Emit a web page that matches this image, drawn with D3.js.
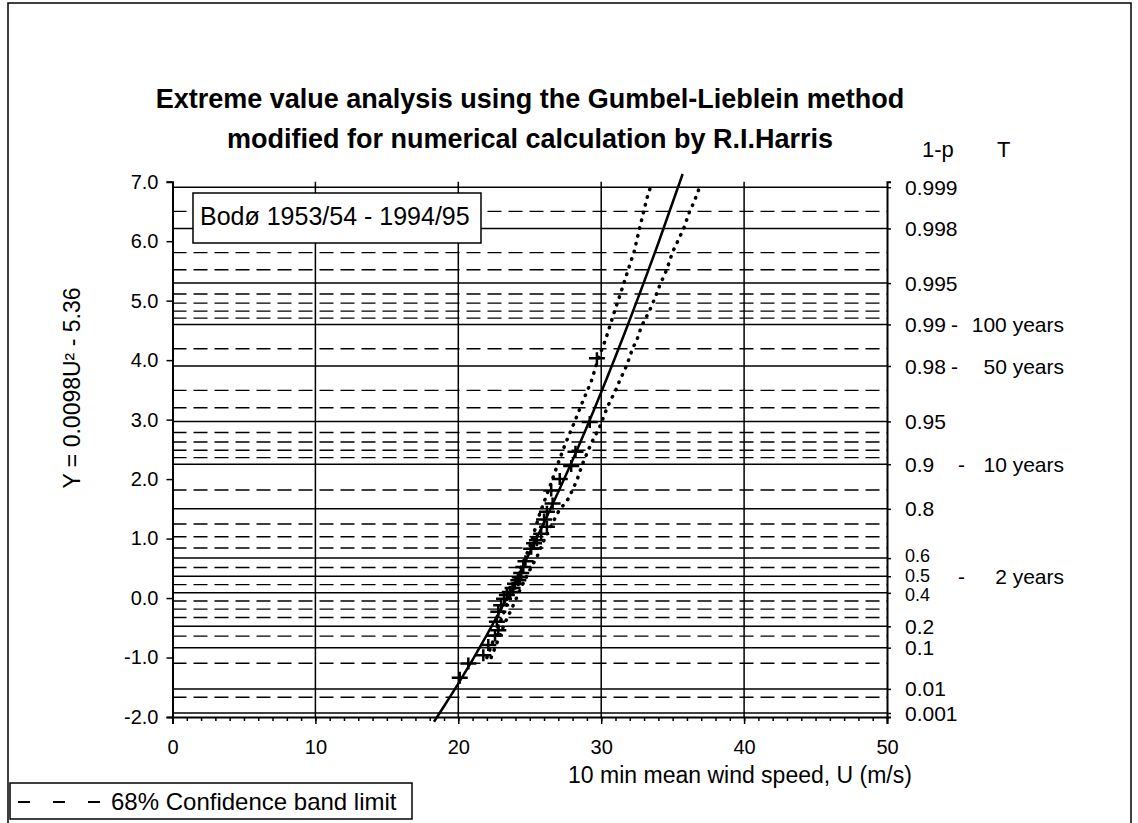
<!DOCTYPE html>
<html>
<head>
<meta charset="utf-8">
<script src="https://cdn.jsdelivr.net/npm/d3@7/dist/d3.min.js"></script>
<style>
  html, body { margin: 0; padding: 0; background: #fff; }
  svg { display: block; }
  text { font-family: "Liberation Sans", Arial, Helvetica, sans-serif; fill: #000; }
</style>
</head>
<body>
<svg id="chart" width="1138" height="823"></svg>
<script>
// ---------------- DATA ----------------
const titleLines = ["Extreme value analysis using the Gumbel-Lieblein method",
                    "modified for numerical calculation by R.I.Harris"];
const stationLabel = "Bodø 1953/54 - 1994/95";
const xLabel = "10 min mean wind speed, U (m/s)";
const yLabel = "Y = 0.0098U\u00B2 - 5.36";
const legendLabel = "68% Confidence band limit";

const xTicks = [0, 10, 20, 30, 40, 50];
const yTicks = [-2, -1, 0, 1, 2, 3, 4, 5, 6, 7];

// non-exceedance probabilities (1-p) for solid and dashed grid lines
const probSolid = [0.999, 0.998, 0.995, 0.99, 0.98, 0.95, 0.9, 0.8, 0.6, 0.5, 0.4, 0.2, 0.1, 0.01, 0.001];
const probDashed = [0.9985, 0.997, 0.996, 0.994, 0.993, 0.992, 0.991, 0.985, 0.97, 0.96,
                    0.94, 0.93, 0.92, 0.91, 0.85, 0.75, 0.7, 0.65, 0.55, 0.45, 0.35, 0.3, 0.25,
                    0.15, 0.05, 0.005];
// right-hand labels
const probLabels = ["0.999", "0.998", "0.995", "0.99", "0.98", "0.95", "0.9", "0.8", "0.6", "0.5", "0.4", "0.2", "0.1", "0.01", "0.001"];
const returnProbs = [0.99, 0.98, 0.9, 0.5];
const returnLabels = ["100 years", "50 years", "10 years", "2 years"];

// observed annual maxima (U m/s) and plotted reduced variate Y
const obsU = [20.1, 20.7, 21.75, 22.1, 22.57, 22.8, 22.7, 22.8, 23.0, 23.2, 23.4, 23.6, 23.8, 23.97,
              24.2, 24.3, 24.4, 24.55, 24.7, 25.1, 25.3, 25.5, 25.8, 26.2, 26.0, 26.2, 26.6, 26.5,
              27.1, 27.9, 28.2, 29.2, 29.7];
const obsY = [-1.34, -1.10, -0.96, -0.79, -0.63, -0.54, -0.40, -0.23, -0.12, -0.01, 0.05, 0.10, 0.17, 0.24,
              0.30, 0.35, 0.42, 0.52, 0.62, 0.83, 0.92, 0.97, 1.08, 1.20, 1.32, 1.45, 1.59, 1.81,
              2.00, 2.22, 2.46, 2.96, 4.03];

// fitted curve
const fitU = [18.3, 19.0, 20.0, 22.0, 24.0, 26.0, 28.0, 30.0, 32.0, 34.0, 35.7];
const fitY = [-2.08, -1.82, -1.44, -0.62, 0.28, 1.27, 2.32, 3.46, 4.68, 5.97, 7.13];

// 68% confidence band limits
const bandUpperU = [22.0, 22.7, 23.5, 24.0, 24.4, 25.0, 25.7, 26.4, 26.9, 27.5, 28.1, 28.7, 29.3, 29.8, 30.3, 30.97, 31.3, 31.9, 32.3, 32.7, 33.2, 33.5];
const bandUpperY = [-1.0, -0.55, -0.04, 0.24, 0.52, 0.86, 1.42, 1.87, 2.21, 2.60, 2.94, 3.30, 3.64, 4.03, 4.34, 4.85, 5.08, 5.53, 5.82, 6.23, 6.72, 6.95];
const bandLowerU = [22.3, 23.2, 24.0, 24.3, 25.0, 25.5, 26.1, 26.5, 27.0, 27.7, 28.3, 28.7, 29.3, 29.9, 30.3, 30.6, 30.97, 31.3, 31.8, 32.2, 32.5, 32.8, 33.4, 33.8, 34.1, 34.6, 35.0, 35.3, 35.8, 36.2, 36.5, 36.9];
const bandLowerY = [-1.0, -0.45, -0.04, 0.13, 0.47, 0.69, 1.03, 1.22, 1.45, 1.67, 1.98, 2.26, 2.60, 2.88, 3.13, 3.30, 3.47, 3.66, 3.92, 4.20, 4.34, 4.56, 4.84, 5.07, 5.26, 5.53, 5.82, 5.97, 6.23, 6.51, 6.66, 6.92];

// ---------------- DRAW ----------------
const svg = d3.select("#chart");
const FONT = "'Liberation Sans', Arial, sans-serif";

const x = d3.scaleLinear().domain([0, 50]).range([172.5, 887]);
const y = d3.scaleLinear().domain([-2, 7]).range([717, 181.7]);
// Gumbel reduced variate for a non-exceedance probability
const gumbel = p => -Math.log(-Math.log(p));

// outer frame
svg.append("rect").attr("x", 8).attr("y", 3).attr("width", 1123).attr("height", 840)
  .attr("fill", "none").attr("stroke", "#000").attr("stroke-width", 1.5);

// title
svg.append("g").selectAll("text").data(titleLines).join("text")
  .attr("x", 530).attr("y", (d, i) => 108 + i * 40)
  .attr("text-anchor", "middle").attr("font-weight", "bold").attr("font-size", 27)
  .text(d => d);

const plot = svg.append("g");

// dashed grid lines
plot.append("g").selectAll("line").data(probDashed).join("line")
  .attr("x1", x(0)).attr("x2", x(50))
  .attr("y1", d => y(gumbel(d))).attr("y2", d => y(gumbel(d)))
  .attr("stroke", "#000").attr("stroke-width", 1.4).attr("stroke-dasharray", "14 7");

// solid grid lines
plot.append("g").selectAll("line").data(probSolid).join("line")
  .attr("x1", x(0)).attr("x2", x(50))
  .attr("y1", d => y(gumbel(d))).attr("y2", d => y(gumbel(d)))
  .attr("stroke", "#000").attr("stroke-width", 1.5);

// vertical grid lines
plot.append("g").selectAll("line").data(xTicks.filter(d => d > 0 && d < 50)).join("line")
  .attr("x1", d => x(d)).attr("x2", d => x(d))
  .attr("y1", y(7)).attr("y2", y(-2))
  .attr("stroke", "#000").attr("stroke-width", 1.5);

// axes
const gx = svg.append("g").attr("transform", `translate(0,${y(-2)})`)
  .call(d3.axisBottom(x).tickValues(xTicks).tickSize(7).tickPadding(16).tickFormat(d => d));
const gxMinor = svg.append("g").attr("transform", `translate(0,${y(-2)})`)
  .call(d3.axisBottom(x).tickValues(d3.range(0, 51, 1)).tickSize(4).tickFormat(""));
gxMinor.select(".domain").remove();
const gy = svg.append("g").attr("transform", `translate(${x(0)},0)`)
  .call(d3.axisLeft(y).tickValues(yTicks).tickSize(6).tickPadding(8).tickFormat(d => d.toFixed(1)));
const gr = svg.append("g").attr("transform", `translate(${x(50)},0)`)
  .call(d3.axisRight(y).tickValues(probSolid.map(gumbel)).tickSize(4).tickFormat(""));

[gx, gxMinor, gy, gr].forEach(g => {
  g.selectAll(".domain").attr("stroke", "#000").attr("stroke-width", 2);
  g.selectAll(".tick line").attr("stroke", "#000").attr("stroke-width", 1.5);
  g.selectAll(".tick text").attr("font-family", FONT).attr("font-size", 20).attr("fill", "#000");
});

// confidence bands (dotted)
const line = d3.line().x(d => x(d[0])).y(d => y(d[1]));
const bands = [d3.zip(bandUpperU, bandUpperY), d3.zip(bandLowerU, bandLowerY)];
plot.append("g").selectAll("path").data(bands).join("path")
  .attr("d", line).attr("fill", "none").attr("stroke", "#000")
  .attr("stroke-width", 3.5).attr("stroke-dasharray", "0.5 7.5").attr("stroke-linecap", "round");

// fitted curve
plot.append("path").datum(d3.zip(fitU, fitY))
  .attr("d", d3.line().curve(d3.curveMonotoneX).x(d => x(d[0])).y(d => y(d[1])))
  .attr("fill", "none").attr("stroke", "#000").attr("stroke-width", 2.5);

// observations (+)
plot.append("g").selectAll("path").data(d3.zip(obsU, obsY)).join("path")
  .attr("transform", d => `translate(${x(d[0])},${y(d[1])})`)
  .attr("d", "M-8,0H8M0,-6V6").attr("stroke", "#000").attr("stroke-width", 2.5).attr("fill", "none");

// station box
svg.append("rect").attr("x", 193).attr("y", 193).attr("width", 288).attr("height", 50)
  .attr("fill", "#fff").attr("stroke", "#000").attr("stroke-width", 1.5);
svg.append("text").attr("x", 200).attr("y", 225).attr("font-size", 25).text(stationLabel);

// right-hand labels
svg.append("text").attr("x", 922).attr("y", 157).attr("font-size", 22).text("1-p");
svg.append("text").attr("x", 997).attr("y", 157).attr("font-size", 22).text("T");
const labelNudge = {"0.6": -3, "0.5": -1, "0.4": 2};
const labelSize = {"0.6": 18, "0.5": 18, "0.4": 18};
svg.append("g").selectAll("text").data(probLabels).join("text")
  .attr("x", 905).attr("y", (d, i) => y(gumbel(probSolid[i])) + (labelNudge[d] || 0))
  .attr("dy", "0.36em").attr("font-size", d => labelSize[d] || 21).text(d => d);
const dashX = [951, 951, 958, 958];
svg.append("g").selectAll("text").data(returnProbs).join("text")
  .attr("x", (d, i) => dashX[i]).attr("y", d => y(gumbel(d)))
  .attr("dy", "0.36em").attr("font-size", 21).text("-");
svg.append("g").selectAll("text").data(returnProbs).join("text")
  .attr("x", 1064).attr("y", d => y(gumbel(d))).attr("text-anchor", "end")
  .attr("dy", "0.36em").attr("font-size", 21).text((d, i) => returnLabels[i]);

// axis titles
svg.append("text").attr("x", 740).attr("y", 783).attr("text-anchor", "middle")
  .attr("font-size", 23).text(xLabel);
svg.append("text").attr("transform", `translate(80,388) rotate(-90)`)
  .attr("text-anchor", "middle").attr("font-size", 23).text(yLabel);

// legend
svg.append("rect").attr("x", 10).attr("y", 783).attr("width", 402).attr("height", 36)
  .attr("fill", "#fff").attr("stroke", "#000").attr("stroke-width", 1.5);
svg.append("line").attr("x1", 18).attr("x2", 100).attr("y1", 802).attr("y2", 802)
  .attr("stroke", "#000").attr("stroke-width", 2).attr("stroke-dasharray", "12 23");
svg.append("text").attr("x", 111).attr("y", 810).attr("font-size", 24).text(legendLabel);
</script>
</body>
</html>
